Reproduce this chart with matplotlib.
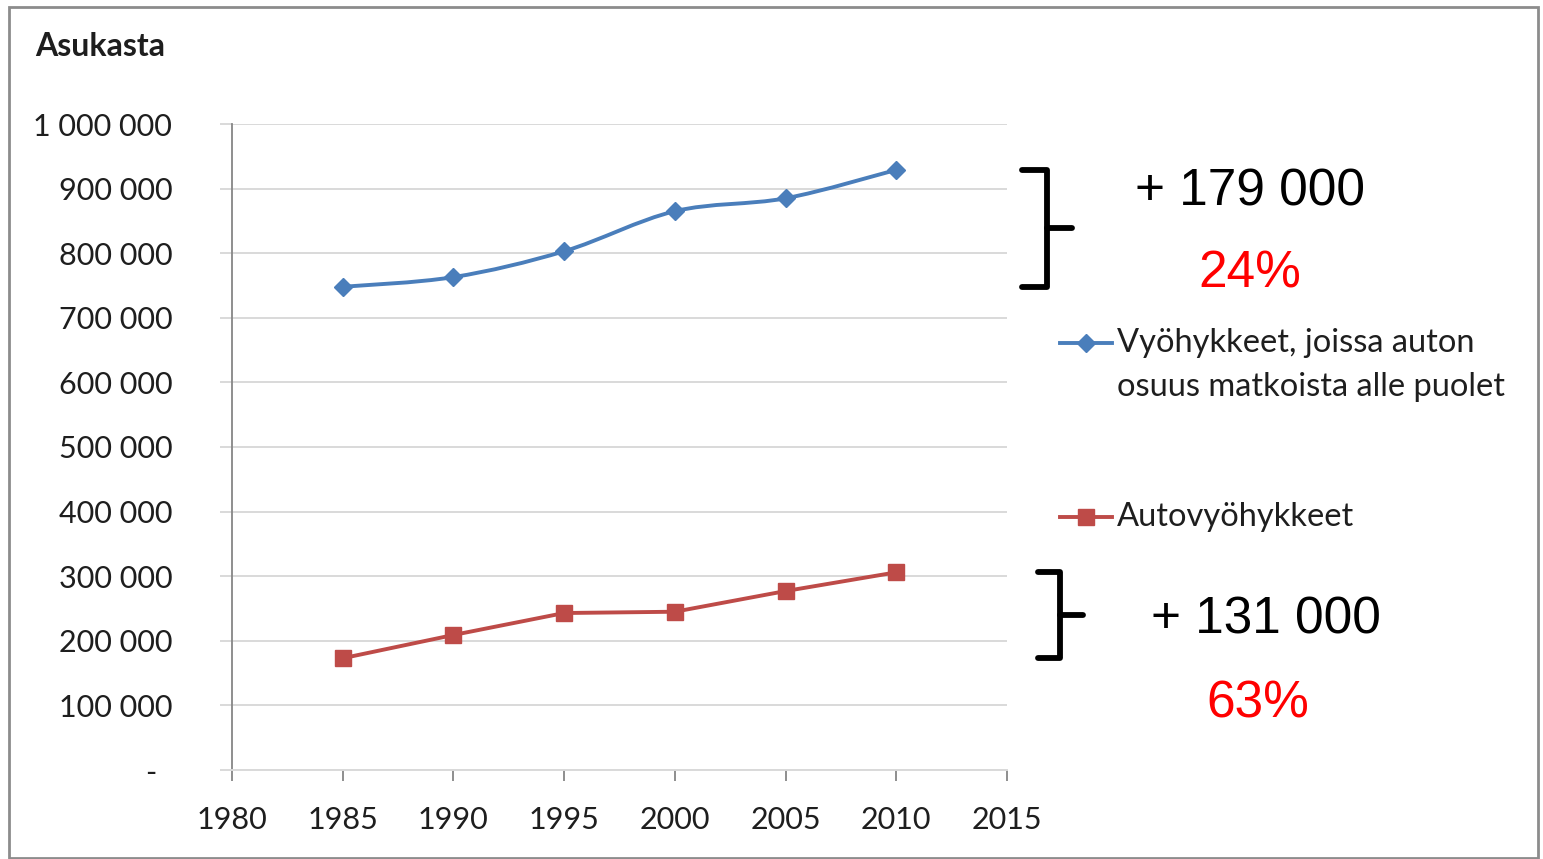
import matplotlib.pyplot as plt
from matplotlib.path import Path
from matplotlib.patches import PathPatch, Rectangle
from matplotlib.lines import Line2D
from matplotlib.ticker import FuncFormatter
import matplotlib.transforms as mtransforms

# Data
years = [1985, 1990, 1995, 2000, 2005, 2010]
transit_zones = [748000, 763000, 803000, 865000, 885000, 929000]
car_zones = [173000, 209000, 243000, 245000, 277000, 306000]

label_transit = 'Vyöhykkeet, joissa auton\nosuus matkoista alle puolet'
label_car = 'Autovyöhykkeet'
change_transit = '+ 179 000'
pct_transit = '24%'
change_car = '+ 131 000'
pct_car = '63%'

blue = '#4a7ebb'
red = '#be4b48'
grid_c = '#d9d9d9'
axis_c = '#868686'
text_c = '#1e1e1e'

W, H = 1543, 859
fig = plt.figure(figsize=(W / 100, H / 100), dpi=100)
fig.patch.set_facecolor('white')


def fx(px):
    return px / W


def fy(py):
    return 1 - py / H


ax = fig.add_axes([fx(232), fy(770), fx(1007) - fx(232), fy(124) - fy(770)])

# smoothed line (Catmull-Rom -> Bezier), like Excel's smoothed line option
def smooth_path(xs, ys):
    verts = [(xs[0], ys[0])]
    codes = [Path.MOVETO]
    n = len(xs)
    for i in range(n - 1):
        x0, y0 = (xs[i - 1], ys[i - 1]) if i > 0 else (xs[i], ys[i])
        x1, y1 = xs[i], ys[i]
        x2, y2 = xs[i + 1], ys[i + 1]
        x3, y3 = (xs[i + 2], ys[i + 2]) if i + 2 < n else (x2, y2)
        c1 = (x1 + (x2 - x0) / 6, y1 + (y2 - y0) / 6)
        c2 = (x2 - (x3 - x1) / 6, y2 - (y3 - y1) / 6)
        verts += [c1, c2, (x2, y2)]
        codes += [Path.CURVE4] * 3
    return Path(verts, codes)


ax.add_patch(PathPatch(smooth_path(years, transit_zones), fill=False,
                       edgecolor=blue, lw=2.8, zorder=3))
ax.plot(years, transit_zones, linestyle='none', marker='D', color=blue,
        markersize=9, zorder=4)
ax.plot(years, car_zones, color=red, lw=2.8, marker='s', markersize=12,
        zorder=4)

ax.set_xlim(1980, 2015)
ax.set_ylim(0, 1000000)
ax.set_xticks(range(1980, 2016, 5))
ax.set_yticks(range(0, 1000001, 100000))
ax.yaxis.set_major_formatter(FuncFormatter(
    lambda v, p: '-  ' if v == 0 else f'{int(v):,}'.replace(',', ' ')))

ax.grid(axis='y', color=grid_c, lw=1.4)
ax.set_axisbelow(True)
for s in ['top', 'right']:
    ax.spines[s].set_visible(False)
ax.spines['left'].set_color(axis_c)
ax.spines['bottom'].set_color(grid_c)
ax.spines['left'].set_linewidth(1.3)
ax.spines['bottom'].set_linewidth(1.4)

ax.tick_params(axis='x', direction='out', length=8, width=1.3, color=axis_c,
               pad=18, labelsize=22, labelcolor=text_c)
ax.tick_params(axis='y', direction='out', length=9, width=1.4, color=grid_c,
               pad=34, labelsize=22, labelcolor=text_c)
for lab in ax.get_xticklabels() + ax.get_yticklabels():
    lab.set_family('Lato')

fig.text(fx(35), fy(47), 'Asukasta', family='Lato', fontweight='bold',
         fontsize=23, color=text_c, ha='left', va='center')

# braces spanning each series' range
trans = mtransforms.blended_transform_factory(ax.transAxes, ax.transData)


def brace(x0, x1, x2, lo, hi):
    mid = (lo + hi) / 2
    ax.add_line(Line2D([x0, x1, x1, x0], [hi, hi, lo, lo], transform=trans,
                       color='black', lw=4.2, solid_joinstyle='round',
                       solid_capstyle='round', clip_on=False))
    ax.add_line(Line2D([x1, x2], [mid, mid], transform=trans, color='black',
                       lw=4.2, solid_capstyle='round', clip_on=False))


brace(1.019, 1.052, 1.084, min(transit_zones), max(transit_zones))
brace(1.040, 1.068, 1.098, min(car_zones), max(car_zones))

ann = dict(family='Liberation Sans', fontsize=37, ha='center', va='baseline')
fig.text(fx(1250), fy(206), change_transit, color='black', **ann)
fig.text(fx(1250), fy(287), pct_transit, color='#ff0000', **ann)
fig.text(fx(1266), fy(633), change_car, color='black', **ann)
fig.text(fx(1258), fy(718), pct_car, color='#ff0000', **ann)

# legend entries
leg_font = dict(family='Lato', fontsize=23.5, color=text_c, ha='left',
                va='center')
fig.add_artist(Line2D([fx(1060), fx(1112)], [fy(343), fy(343)], color=blue,
                      lw=2.8))
fig.add_artist(Line2D([fx(1086)], [fy(343)], color=blue, marker='D',
                      markersize=9, linestyle='none'))
fig.text(fx(1117), fy(343), label_transit.split('\n')[0], **leg_font)
fig.text(fx(1117), fy(387), label_transit.split('\n')[1], **leg_font)
fig.add_artist(Line2D([fx(1060), fx(1112)], [fy(517), fy(517)], color=red,
                      lw=2.8))
fig.add_artist(Line2D([fx(1086)], [fy(517)], color=red, marker='s',
                      markersize=12, linestyle='none'))
fig.text(fx(1117), fy(517), label_car, **leg_font)

# outer frame
fig.add_artist(Rectangle((fx(9), fy(858)), fx(1538) - fx(9), fy(7) - fy(858),
                         fill=False, edgecolor='#8c8c8c', lw=2,
                         transform=fig.transFigure))

fig.savefig('out.png', dpi=100)
